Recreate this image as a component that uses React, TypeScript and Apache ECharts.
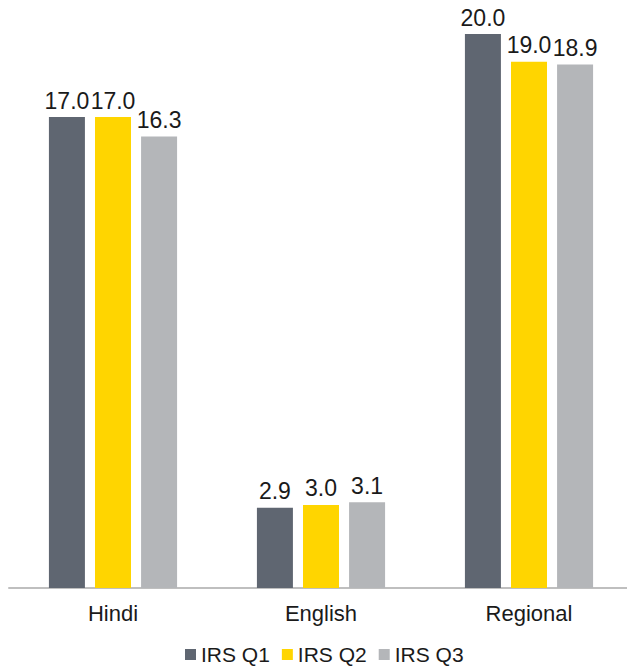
import React, { useEffect, useRef } from "react";
import * as echarts from "echarts";

const categories = ["Hindi", "English", "Regional"];
const seriesNames = ["IRS Q1", "IRS Q2", "IRS Q3"];
const q1 = [17.0, 2.9, 20.0];
const q2 = [17.0, 3.0, 19.0];
const q3 = [16.3, 3.1, 18.9];
const colors = ["#5f6671", "#ffd500", "#b4b6b9"];

export default function App() {
  const ref = useRef<HTMLDivElement>(null);
  useEffect(() => {
    const chart = echarts.init(ref.current!, null, { renderer: "svg" });
    const font = "Liberation Sans";
    const mk = (name: string, data: number[], color: string) => ({
      name,
      type: "bar",
      data,
      barWidth: 36,
      barGap: "28%",
      itemStyle: { color },
      label: {
        show: true,
        position: "top",
        distance: 5,
        formatter: (p: any) => p.value.toFixed(1),
        fontSize: 23,
        fontFamily: font,
        color: "#1a1a1a",
      },
    });
    chart.setOption({
      animation: false,
      textStyle: { fontFamily: font },
      legend: {
        data: seriesNames,
        left: 185,
        top: 644,
        padding: 0,
        itemWidth: 11,
        itemHeight: 11,
        itemGap: 12,
        icon: "rect",
        textStyle: { fontSize: 21, color: "#1a1a1a", fontFamily: font },
      },
      grid: { left: 9, width: 624, top: 34, bottom: 81, containLabel: false, outerBoundsMode: "none" },
      xAxis: {
        type: "category",
        data: categories,
        axisLine: { lineStyle: { color: "#bfbfbf", width: 2 } },
        axisTick: { show: false },
        axisLabel: { fontSize: 22, color: "#1a1a1a", fontFamily: font, margin: 14 },
      },
      yAxis: {
        type: "value",
        min: 0,
        max: 20,
        show: false,
        splitLine: { show: false },
      },
      series: [mk(seriesNames[0], q1, colors[0]), mk(seriesNames[1], q2, colors[1]), mk(seriesNames[2], q3, colors[2])],
    });
    return () => chart.dispose();
  }, []);
  return <div ref={ref} style={{ width: 627, height: 669, position: "absolute", left: 0, top: 0 }} />;
}
